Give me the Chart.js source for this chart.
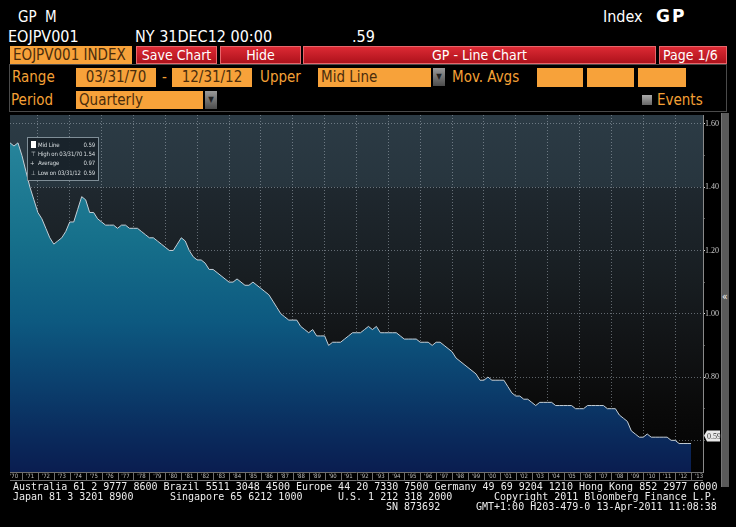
<!DOCTYPE html>
<html>
<head>
<meta charset="utf-8">
<script src="https://cdn.jsdelivr.net/npm/chart.js@4.4.0/dist/chart.umd.min.js"></script>
<style>
  html, body { margin: 0; padding: 0; background: #000; }
  body { width: 736px; height: 527px; position: relative; overflow: hidden;
         font-family: 'DejaVu Sans Condensed', 'DejaVu Sans', sans-serif; color: #fff; }
  .t { position: absolute; white-space: nowrap; }
  .org { position: absolute; background: #f7a23a; color: #4a2c0c; font-size: 15px; line-height: 18px;
         height: 18px; padding-left: 3px; box-sizing: border-box; white-space: nowrap; }
  .c { text-align: center; padding-left: 0; }
  .lbl { position: absolute; color: #f4a036; font-size: 15px; line-height: 18px; white-space: nowrap; }
  .red { position: absolute; top: 46px; height: 18px; background: linear-gradient(#dc2a34, #ae121c);
         color: #fff; font-size: 14px; line-height: 17px; text-align: center; box-sizing: border-box;
         border: 1px solid #e8666b; white-space: nowrap; }
  .arrow { position: absolute; width: 12px; height: 18px; background: linear-gradient(#9a9a9a, #4c4c4c);
           color: #222; font-size: 8px; line-height: 18px; text-align: center; }
  .foot { position: absolute; font-family: 'DejaVu Sans Mono', monospace; font-size: 10px; line-height: 10px;
          color: #ececec; white-space: pre; }
  #legend { position: absolute; left: 27px; top: 137px; width: 72px; height: 44px; box-sizing: border-box;
            border: 1px solid #7f8e97; background: rgba(24, 34, 41, 0.92); z-index: 2;
            font-size: 6px; letter-spacing: -0.15px; color: #d8dde0; }
  #legend div { position: absolute; white-space: nowrap; line-height: 8px; }
  #wrap { position: absolute; left: 0; top: 113px; width: 736px; height: 374px; }
  #scroll { position: absolute; left: 721px; top: 113px; width: 8px; height: 374px; background: #5a5a5a;
            border-left: 1px solid #777; box-sizing: border-box; z-index: 2; }
</style>
</head>
<body>
<!-- header -->
<div class="t" style="left:18px;top:8px;font-size:15px;word-spacing:4px">GP M</div>
<div class="t" style="left:603px;top:7px;font-size:16px">Index</div>
<div class="t" style="left:656px;top:6px;font-size:17px;font-weight:bold;font-family:'DejaVu Sans',sans-serif;letter-spacing:2px">GP</div>
<div class="t" style="left:8px;top:27px;font-size:16px">EOJPV001</div>
<div class="t" style="left:135px;top:27px;font-size:16px">NY 31DEC12 00:00</div>
<div class="t" style="left:352px;top:27px;font-size:16px">.59</div>

<div class="org" style="left:10px;top:46px;width:122px">EOJPV001 INDEX</div>
<div class="red" style="left:136px;width:81px">Save Chart</div>
<div class="red" style="left:220px;width:81px">Hide</div>
<div class="red" style="left:303px;width:353px">GP - Line Chart</div>
<div class="red" style="left:659px;width:68px;text-align:left;padding-left:3px">Page 1/6</div>

<div style="position:absolute;left:9px;top:64px;width:718px;height:48px;border:1px solid #4a4a4a;box-sizing:border-box"></div>
<div class="lbl" style="left:12px;top:68px">Range</div>
<div class="org c" style="left:76px;top:68px;width:80px;height:19px">03/31/70</div>
<div class="lbl" style="left:162px;top:68px">-</div>
<div class="org c" style="left:172px;top:68px;width:80px;height:19px">12/31/12</div>
<div class="lbl" style="left:260px;top:68px">Upper</div>
<div class="org" style="left:318px;top:68px;width:113px;height:19px">Mid Line</div>
<div class="arrow" style="left:433px;top:68px">&#9660;</div>
<div class="lbl" style="left:452px;top:68px">Mov. Avgs</div>
<div class="org" style="left:537px;top:68px;width:46px;height:19px"></div>
<div class="org" style="left:587px;top:68px;width:47px;height:19px"></div>
<div class="org" style="left:638px;top:68px;width:48px;height:19px"></div>

<div class="lbl" style="left:11px;top:91px">Period</div>
<div class="org" style="left:76px;top:91px;width:127px">Quarterly</div>
<div class="arrow" style="left:205px;top:91px">&#9660;</div>
<div style="position:absolute;left:642px;top:95px;width:10px;height:10px;background:linear-gradient(#aaa,#666)"></div>
<div class="lbl" style="left:657px;top:91px">Events</div>

<!-- chart -->
<div id="wrap"><canvas id="gpChart" width="736" height="374"></canvas></div>

<div id="legend">
  <div style="left:3px;top:3px;width:5px;height:7px;background:#fff"></div>
  <div style="left:10px;top:3px">Mid Line</div><div style="right:3px;top:3px">0.59</div>
  <div style="left:3px;top:12px">&#8868;</div>
  <div style="left:10px;top:12px">High on 03/31/70</div><div style="right:3px;top:12px">1.54</div>
  <div style="left:2px;top:21px">+</div>
  <div style="left:10px;top:21px">Average</div><div style="right:3px;top:21px">0.97</div>
  <div style="left:3px;top:31px">&#8869;</div>
  <div style="left:10px;top:31px">Low on 03/31/12</div><div style="right:3px;top:31px">0.59</div>
</div>

<!-- scroll bar -->
<div id="scroll"></div>
<div class="t" style="left:722px;top:291px;font-size:10px;color:#fff;z-index:3">&#171;</div>

<!-- footer -->
<div class="foot" style="left:13px;top:482px">Australia 61 2 9777 8600 Brazil 5511 3048 4500 Europe 44 20 7330 7500 Germany 49 69 9204 1210 Hong Kong 852 2977 6000</div>
<div class="foot" style="left:13px;top:492px">Japan 81 3 3201 8900</div>
<div class="foot" style="left:170px;top:492px">Singapore 65 6212 1000</div>
<div class="foot" style="left:338px;top:492px">U.S. 1 212 318 2000</div>
<div class="foot" style="left:494px;top:492px">Copyright 2011 Bloomberg Finance L.P.</div>
<div class="foot" style="left:386px;top:502px">SN 873692</div>
<div class="foot" style="left:476px;top:502px">GMT+1:00 H203-479-0 13-Apr-2011 11:08:38</div>

<script>
// quarterly values, first quarter ends 03/31/70, last ends 12/31/12
const firstQuarterEnd = 1970.25;
const values = [
  1.54, 1.53, 1.54, 1.50, // 1970
  1.45, 1.40, 1.36, 1.32, // 1971
  1.30, 1.27, 1.24, 1.22, // 1972
  1.23, 1.24, 1.26, 1.29, // 1973
  1.29, 1.33, 1.37, 1.36, // 1974
  1.32, 1.32, 1.30, 1.29, // 1975
  1.28, 1.28, 1.28, 1.27, // 1976
  1.28, 1.28, 1.27, 1.27, // 1977
  1.27, 1.26, 1.25, 1.24, // 1978
  1.24, 1.23, 1.22, 1.21, // 1979
  1.20, 1.20, 1.22, 1.24, // 1980
  1.23, 1.20, 1.18, 1.17, // 1981
  1.17, 1.16, 1.14, 1.14, // 1982
  1.13, 1.12, 1.11, 1.10, // 1983
  1.10, 1.11, 1.10, 1.09, // 1984
  1.09, 1.10, 1.09, 1.08, // 1985
  1.07, 1.06, 1.04, 1.02, // 1986
  1.00, 0.99, 0.98, 0.98, // 1987
  0.98, 0.96, 0.95, 0.94, // 1988
  0.95, 0.93, 0.93, 0.93, // 1989
  0.90, 0.91, 0.91, 0.91, // 1990
  0.92, 0.93, 0.94, 0.94, // 1991
  0.94, 0.95, 0.96, 0.95, // 1992
  0.96, 0.94, 0.94, 0.94, // 1993
  0.94, 0.94, 0.93, 0.92, // 1994
  0.92, 0.92, 0.92, 0.91, // 1995
  0.91, 0.91, 0.90, 0.91, // 1996
  0.91, 0.90, 0.89, 0.88, // 1997
  0.86, 0.85, 0.84, 0.83, // 1998
  0.82, 0.81, 0.79, 0.79, // 1999
  0.80, 0.79, 0.79, 0.79, // 2000
  0.79, 0.77, 0.75, 0.74, // 2001
  0.74, 0.73, 0.73, 0.72, // 2002
  0.71, 0.72, 0.72, 0.72, // 2003
  0.72, 0.71, 0.71, 0.71, // 2004
  0.71, 0.71, 0.70, 0.70, // 2005
  0.70, 0.71, 0.71, 0.71, // 2006
  0.71, 0.71, 0.70, 0.70, // 2007
  0.70, 0.68, 0.67, 0.66, // 2008
  0.63, 0.62, 0.61, 0.61, // 2009
  0.62, 0.61, 0.61, 0.61, // 2010
  0.61, 0.61, 0.60, 0.60, // 2011
  0.59, 0.59, 0.59, 0.59  // 2012
];

// year cells along the bottom ('70 .. '13)
const yearLabels = ["'70","'71","'72","'73","'74","'75","'76","'77","'78","'79",
  "'80","'81","'82","'83","'84","'85","'86","'87","'88","'89",
  "'90","'91","'92","'93","'94","'95","'96","'97","'98","'99",
  "'00","'01","'02","'03","'04","'05","'06","'07","'08","'09",
  "'10","'11","'12","'13"];
const firstYear = 1970;

// right axis
const yTicks = [0.6, 0.7, 0.8, 0.9, 1.0, 1.1, 1.2, 1.3, 1.4, 1.5, 1.6];
const yLabelled = [0.8, 1.0, 1.2, 1.4, 1.6];

const points = values.map((v, i) => ({ x: firstQuarterEnd + i * 0.25, y: v }));
const isLabelled = v => yLabelled.some(l => Math.abs(l - v) < 1e-6);
const isMajor = v => Math.round(v * 10) % 2 === 0;
const narrow = "'Liberation Sans Narrow', 'DejaVu Sans Condensed', sans-serif";
const axisFont = "'Liberation Serif', 'DejaVu Serif', serif";

// plot background: lighter band above 1.40, then fading to black
const plotBackground = {
  id: 'plotBackground',
  beforeDraw(chart) {
    const { ctx, chartArea: a, scales } = chart;
    const yBand = scales.y.getPixelForValue(1.4);
    ctx.save();
    const g = ctx.createLinearGradient(0, a.top, 0, a.bottom);
    const f = (yBand - a.top) / (a.bottom - a.top);
    g.addColorStop(0, '#2c3b45');
    g.addColorStop(f, '#27353e');
    g.addColorStop(f + 0.001, '#1f282f');
    g.addColorStop(0.45, '#181e22');
    g.addColorStop(0.65, '#111315');
    g.addColorStop(0.82, '#0a0a0a');
    g.addColorStop(1, '#030303');
    ctx.fillStyle = g;
    ctx.fillRect(a.left, a.top, a.right - a.left, a.bottom - a.top);
    ctx.restore();
  }
};

// year label cells under the plot + last value tag on the axis
const decorations = {
  id: 'decorations',
  afterDraw(chart) {
    const { ctx, chartArea: a, scales } = chart;
    const x = scales.x;
    const rowH = 8;
    ctx.save();
    ctx.strokeStyle = '#6e6e6e';
    ctx.lineWidth = 1;
    ctx.beginPath();
    ctx.moveTo(a.left, a.bottom + 0.5); ctx.lineTo(a.right, a.bottom + 0.5);
    ctx.moveTo(a.left, a.bottom + rowH + 0.5); ctx.lineTo(a.right, a.bottom + rowH + 0.5);
    for (let yr = Math.ceil(x.min); yr <= x.max; yr++) {
      const px = Math.round(x.getPixelForValue(yr)) + 0.5;
      ctx.moveTo(px, a.bottom); ctx.lineTo(px, a.bottom + rowH);
    }
    ctx.stroke();

    // last value tag
    const last = values[values.length - 1];
    const py = scales.y.getPixelForValue(last);
    const bx = a.right + 1, by = py - 13;
    ctx.fillStyle = '#e9e9e9';
    ctx.beginPath();
    ctx.moveTo(bx, by + 5); ctx.lineTo(bx + 3, by); ctx.lineTo(bx + 16, by);
    ctx.lineTo(bx + 16, by + 11); ctx.lineTo(bx + 3, by + 11); ctx.closePath();
    ctx.fill();
    ctx.fillStyle = '#333';
    ctx.font = '8px ' + axisFont;
    ctx.textBaseline = 'middle';
    ctx.fillText(last.toFixed(2), bx + 3, by + 6);
    ctx.restore();
  }
};

const ctx = document.getElementById('gpChart').getContext('2d');
new Chart(ctx, {
  type: 'line',
  data: {
    datasets: [{
      data: points,
      borderColor: '#c5cfd7',
      borderWidth: 1,
      pointRadius: 0,
      tension: 0,
      fill: 'start',
      backgroundColor: (c) => {
        const a = c.chart.chartArea;
        if (!a) return '#15607f';
        const g = c.chart.ctx.createLinearGradient(0, a.top, 0, a.bottom);
        g.addColorStop(0, '#2b8a9f');
        g.addColorStop(0.35, '#16708b');
        g.addColorStop(0.58, '#0d5980');
        g.addColorStop(0.75, '#0b406e');
        g.addColorStop(0.9, '#0a2a5c');
        g.addColorStop(1, '#0a1d50');
        return g;
      }
    }]
  },
  options: {
    responsive: false,
    animation: false,
    layout: { padding: { left: 10, top: 2, right: 0, bottom: 0 } },
    plugins: { legend: { display: false }, tooltip: { enabled: false } },
    scales: {
      x: {
        type: 'linear',
        min: firstQuarterEnd,
        max: 2013.75,
        afterBuildTicks: (scale) => {
          const t = [];
          yearLabels.forEach((_, i) => {
            t.push({ value: firstYear + i + 0.5 });
            if (firstYear + i + 1 < scale.max) t.push({ value: firstYear + i + 1 });
          });
          scale.ticks = t;
        },
        afterFit: (scale) => { scale.height = 15; scale.paddingLeft = 0; scale.paddingRight = 0; },
        border: { display: false, dash: [1, 2] },
        grid: {
          drawTicks: false,
          color: (c) => {
            const v = c.tick && c.tick.value;
            return Number.isInteger(v) && v % 2 === 0 ? 'rgba(175,185,195,0.5)' : 'rgba(0,0,0,0)';
          }
        },
        ticks: {
          autoSkip: false, maxRotation: 0, minRotation: 0, padding: 1,
          color: '#bdbdbd',
          font: { family: narrow, size: 6 },
          callback: (v) => {
            if (Math.abs(v % 1 - 0.5) > 1e-6) return '';
            return yearLabels[Math.floor(v) - firstYear];
          }
        }
      },
      y: {
        position: 'right',
        min: 0.5,
        max: 1.628,
        afterBuildTicks: (scale) => { scale.ticks = yTicks.map(v => ({ value: v })); },
        afterFit: (scale) => { scale.width = 33; scale.paddingTop = 0; scale.paddingBottom = 0; },
        border: { display: true, color: '#8a8a8a', dash: [1, 2] },
        grid: {
          tickLength: 2,
          color: (c) => (c.tick && isMajor(c.tick.value)) ? 'rgba(175,185,195,0.5)' : 'rgba(0,0,0,0)',
          tickColor: (c) => (c.tick && isLabelled(c.tick.value)) ? '#e0e0e0' : '#5c5c5c'
        },
        ticks: {
          padding: 0,
          color: '#c8c8c8',
          font: { family: axisFont, size: 8 },
          callback: (v) => isLabelled(v) ? v.toFixed(2) : ''
        }
      }
    }
  },
  plugins: [plotBackground, decorations]
});
</script>
</body>
</html>
